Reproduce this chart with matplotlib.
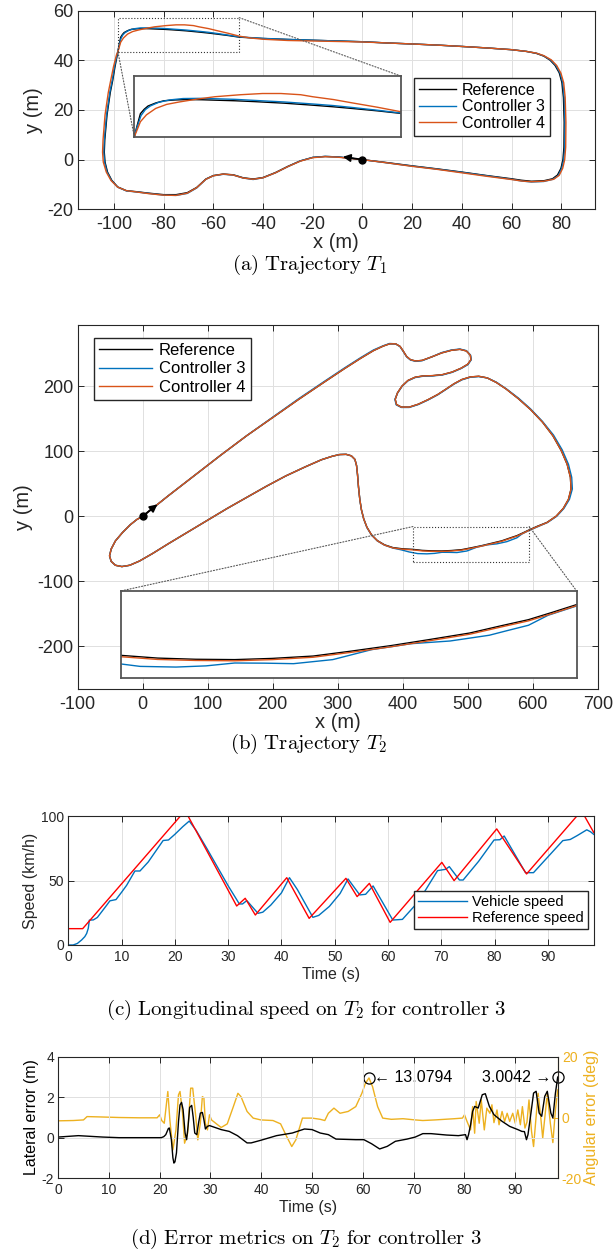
import matplotlib
matplotlib.use('Agg')
import matplotlib.pyplot as plt
from matplotlib.patches import Rectangle, ConnectionPatch

plt.rcParams['font.family'] = ['Liberation Sans', 'DejaVu Sans']
plt.rcParams['mathtext.fontset'] = 'cm'
plt.rcParams['axes.unicode_minus'] = False

# ---------------- data ----------------
# Trajectory T1 (x, y in m)
t1_ref = [(0, 0), (-5, 0.6), (-10, 1.1), (-15, 1.3), (-20, 0.9), (-25, -0.5), (-30, -2.7), (-35, -5.2),
          (-40, -7.2), (-44, -7.8), (-48, -7.3), (-52, -6.1), (-56, -5.8), (-60, -6.4), (-63, -7.8),
          (-66.7, -11.2), (-70.5, -13.3), (-75, -14.1), (-80, -14.1), (-86, -13.5), (-91, -12.9),
          (-95, -12.5), (-98.5, -11), (-100.9, -8.3), (-102.6, -5), (-103.6, -1), (-103.9, 3),
          (-103.7, 8), (-102.8, 18), (-101.5, 27), (-100.5, 32), (-99.6, 37.4), (-98.6, 42.5),
          (-98.0, 45.8), (-97.3, 49.3), (-96.6, 50.4), (-95.9, 51.2), (-94.5, 51.95), (-93, 52.5),
          (-91, 52.7), (-88.7, 52.8), (-86, 52.75), (-83.7, 52.65), (-80, 52.5), (-76.6, 52.3),
          (-71, 51.9), (-65.8, 51.4), (-62, 51.0), (-58.7, 50.6), (-54, 50.0), (-49.6, 49.35),
          (-40, 48.8), (-30, 48.4), (-20, 48.1), (-10, 47.8), (0, 47.5), (10, 47), (20, 46.6),
          (31, 46.1), (40, 45.6), (50, 45), (60, 44.3), (66, 43.6), (70, 42.8), (73, 41.7), (75.5, 40.1),
          (77.5, 38), (79.2, 35), (80.3, 31), (80.9, 25), (81.2, 15), (81.1, 5), (80.7, 0), (79.9, -3.5),
          (78.5, -6.2), (76.5, -7.7), (73, -8.5), (68, -8.7), (64, -8.3), (60, -7.7), (50, -6.4),
          (40, -5.0), (30, -3.7), (20, -2.5), (10, -1.2), (0, 0)]
t1_c3 = [(0, 0), (-5, 0.6), (-10, 1.1), (-15, 1.3), (-20, 0.9), (-25, -0.5), (-30, -2.8), (-35, -5.3),
         (-40, -7.3), (-44, -8.0), (-48, -7.4), (-52, -6.2), (-56, -5.9), (-60, -6.5), (-63, -7.9),
         (-66.7, -11.4), (-70.5, -13.6), (-75, -14.4), (-80, -14.3), (-86, -13.6), (-91, -13.0),
         (-95, -12.6), (-98.5, -11.1), (-101.0, -8.4), (-102.8, -5), (-103.8, -1), (-104.1, 3),
         (-103.9, 8), (-103.0, 18), (-101.7, 27), (-100.7, 32), (-99.8, 37.4), (-98.7, 42.5),
         (-98.0, 45.6), (-97.2, 48.8), (-96.4, 50.3), (-95.5, 51.2), (-94, 52.1), (-92, 52.7),
         (-89.5, 53.05), (-86.5, 53.1), (-83.7, 53.0), (-80, 52.85), (-76.6, 52.6), (-71, 52.2),
         (-65.8, 51.7), (-62, 51.3), (-58.7, 50.85), (-54, 50.15), (-49.6, 49.45), (-40, 48.85),
         (-30, 48.45), (-20, 48.1), (-10, 47.8), (0, 47.5), (10, 47), (20, 46.6),
         (31, 46.1), (40, 45.6), (50, 45), (60, 44.3), (66, 43.6), (70, 42.9), (73, 41.8), (75.8, 40.1),
         (77.8, 38), (79.5, 35), (80.6, 31), (81.2, 25), (81.5, 15), (81.4, 5), (81.0, 0), (80.2, -3.5),
         (78.8, -6.4), (76.7, -7.9), (73, -8.8), (68, -9.0), (64, -8.6), (60, -7.9), (50, -6.5),
         (40, -5.1), (30, -3.8), (20, -2.6), (10, -1.3), (0, 0)]
t1_c4 = [(0, 0), (-5, 0.5), (-10, 1.0), (-15, 1.2), (-20, 0.8), (-25, -0.6), (-30, -2.8), (-35, -5.3),
         (-40, -7.3), (-44, -7.9), (-48, -7.4), (-52, -6.2), (-56, -5.8), (-60, -6.5), (-63, -7.9),
         (-66.7, -11.3), (-70.5, -13.5), (-75, -14.4), (-80, -14.3), (-86, -13.7), (-91, -13.0),
         (-95, -12.5), (-98.5, -11.1), (-101.2, -8.4), (-103.1, -5), (-104.3, -1), (-104.6, 3),
         (-104.4, 8), (-103.6, 18), (-102.3, 27), (-101.3, 32), (-100.2, 37.4), (-99.0, 42.2),
         (-98.4, 43.6), (-97.8, 45.6), (-97.3, 47.3), (-96.2, 49.0), (-94.5, 50.6), (-92.5, 51.6),
         (-90.2, 52.2), (-87, 52.9), (-83.7, 53.5), (-79, 54.0), (-75, 54.3), (-71.6, 54.3), (-68, 54.0),
         (-65.8, 53.5), (-62, 52.8), (-58.7, 52.0), (-54, 50.9), (-49.6, 49.75), (-45, 49.0), (-40, 48.5),
         (-30, 48.0), (-20, 47.8), (-10, 47.6), (0, 47.4), (10, 47), (20, 46.6), (31, 46.1), (40, 45.6),
         (50, 45), (60, 44.3), (66, 43.6), (70, 42.9), (73, 41.9), (76, 40.2), (78.2, 37.9), (79.9, 34.8),
         (81, 31), (81.6, 25), (81.9, 15), (81.8, 5), (81.4, 0), (80.6, -3.5), (79.2, -6.3), (77, -7.9),
         (73, -8.7), (68, -8.9), (64, -8.6), (60, -8.0), (50, -6.7), (40, -5.3), (30, -3.9), (20, -2.7),
         (10, -1.3), (0, 0)]
t1_start = (0, 0)
t1_heading = (-9, 1.3)

# Trajectory T2 (x, y in m)
t2_ref = [(0, 0), (20, 16), (40, 32), (80, 63), (120, 94), (160, 124), (200, 152), (240, 180), (280, 207),
          (310, 227), (335, 243), (355, 255), (370, 262), (380, 265.5), (389, 265.5), (396, 261.5),
          (401, 254), (406, 246), (412, 241), (420, 239), (430, 240), (445, 245.5), (460, 251.5),
          (475, 255.5), (488, 257), (498, 254.5), (504, 248), (505, 241), (500, 234), (490, 228),
          (476, 222), (461, 218), (446, 216.5), (431, 216), (419, 214), (408, 209), (399, 200.5),
          (392, 190), (388.5, 180), (390.5, 172), (398, 168), (410, 168), (424, 172.5), (439, 179.5),
          (454, 187.5), (467, 196), (479, 204), (491, 210.5), (504, 214.5), (517, 215.5), (530, 213),
          (544, 206), (559, 196), (578, 181), (597, 164), (615, 145), (631, 124), (644, 101), (653, 80),
          (658, 60), (659, 42), (655, 26), (647, 12), (636, 0), (622, -9.5), (607, -15.5), (594.6, -21.0),
          (585, -25.6), (575.7, -29.9), (565, -33.5), (552.6, -37.8), (537, -41.6), (521.8, -45.2),
          (506, -48.5), (491.1, -51.4), (475, -52.8), (460.3, -53.5), (444.9, -53.3), (430, -52.6),
          (415.7, -51), (400, -50.2), (385, -48.3), (372, -44), (361, -37.5), (352, -28.5), (345, -17),
          (340, -4), (336.5, 10), (334, 26), (332, 45), (330.5, 64), (329, 78), (326.5, 87.5), (321, 93),
          (313, 95.3), (303, 95), (292, 92.5), (275, 87), (250, 76), (220, 62), (190, 46), (160, 29),
          (130, 12), (100, -6), (70, -24), (40, -42), (15, -57.5), (-5, -69), (-20, -75.5), (-32, -77.5),
          (-42, -75.5), (-48.5, -69.5), (-51, -61), (-48.5, -50.5), (-42, -38), (-31, -25), (-19, -13),
          (-9, -5), (0, 0)]
t2_c3 = [(0, 0), (20, 16), (40, 32), (80, 63), (120, 94), (160, 124), (200, 152.5), (240, 181), (280, 208),
         (310, 228), (335, 244), (355, 256), (370, 262.5), (380, 266), (389, 265.5), (396, 261),
         (401, 253.5), (406, 245.5), (412, 240.5), (420, 238.5), (430, 239.5), (445, 245.5), (460, 252),
         (475, 256), (488, 257.5), (498, 255), (504.5, 248), (505.5, 241), (500.5, 233.5), (490, 227.5),
         (476, 221.5), (461, 217.5), (446, 216), (431, 215.5), (419, 213.5), (408, 208.5), (399, 200),
         (392, 189.5), (388, 180), (390, 171.5), (398, 167.5), (410, 167.5), (424, 172), (439, 179),
         (454, 187), (467, 195.5), (479, 203.5), (491, 210), (504, 214), (517, 215), (530, 213),
         (544, 206.5), (559, 196.5), (578, 182), (597, 165), (615, 146), (632, 125), (645.5, 102),
         (655, 80), (660, 60), (661, 42), (656.5, 26), (648, 12), (637, 0), (623, -9.5), (608, -16),
         (594.6, -21.8), (583.4, -27.3), (575.7, -33.2), (567, -36.5), (560.3, -39.1), (544.9, -42.5),
         (529.5, -44.1), (514.1, -47.6), (498.8, -53.5), (483.4, -55.9), (472, -55.6), (460.3, -55.5),
         (449, -57.2), (437.2, -57.9), (423.1, -57.5), (410, -55), (398, -51.8), (385, -49), (372, -44.5),
         (361, -38), (352, -29), (345, -17.5), (340, -4), (336.5, 10), (334, 26), (332, 45), (330.5, 64),
         (329, 78), (326.5, 87.5), (321, 93), (313, 95.3), (303, 95), (292, 92.5), (275, 87), (250, 76),
         (220, 62), (190, 46), (160, 29), (130, 12), (100, -6), (70, -24), (40, -42), (15, -57.5),
         (-5, -69), (-20, -75.5), (-32, -77.5), (-42, -75.5), (-48.5, -69.5), (-51, -61), (-48.5, -50.5),
         (-42, -38), (-31, -25), (-19, -13), (-9, -5), (0, 0)]
t2_c4 = [(0, 0), (20, 16), (40, 32), (80, 63), (120, 94), (160, 124), (200, 152), (240, 180), (280, 207),
         (310, 227), (335, 243), (355, 255), (370, 262), (380, 265.5), (389, 265.5), (396, 261.5),
         (401, 254), (406, 246), (412, 241), (420, 239), (430, 240), (445, 245.5), (460, 251.5),
         (475, 255.5), (488, 257), (498, 254.5), (504, 248), (505, 241), (500, 234), (490, 228),
         (476, 222), (461, 218), (446, 216.5), (431, 216), (419, 214), (408, 209), (399, 200.5),
         (392, 190), (388.5, 180), (390.5, 172), (398, 168), (410, 168), (424, 172.5), (439, 179.5),
         (454, 187.5), (467, 196), (479, 204), (491, 210.5), (504, 214.5), (517, 215.5), (530, 213),
         (544, 206), (559, 196), (578, 181), (597, 164), (615, 145), (631, 124), (644, 101), (653, 80),
         (658, 60), (659, 42), (655, 26), (647, 12), (636, 0), (622, -9.8), (607, -16), (594.6, -21.6),
         (585, -26.3), (575.7, -30.6), (565, -34.2), (552.6, -38.5), (537, -42.3), (521.8, -45.9),
         (506, -49.2), (491.1, -52.1), (475, -53.5), (460.3, -54.2), (444.9, -54.0), (430, -53.4),
         (415.7, -51.8), (400, -50.8), (385, -48.8), (372, -44.4), (361, -37.8), (352, -28.7), (345, -17),
         (340, -4), (336.5, 10), (334, 26), (332, 45), (330.5, 64), (329, 78), (326.5, 87.5), (321, 93),
         (313, 95.3), (303, 95), (292, 92.5), (275, 87), (250, 76), (220, 62), (190, 46), (160, 29),
         (130, 12), (100, -6), (70, -24), (40, -42), (15, -57.5), (-5, -69), (-20, -75.5), (-32, -77.5),
         (-42, -75.5), (-48.5, -69.5), (-51, -61), (-48.5, -50.5), (-42, -38), (-31, -25), (-19, -13),
         (-9, -5), (0, 0)]
t2_start = (0, 0)
t2_heading = (26, 21)

# Longitudinal speed on T2, controller 3 (t in s, v in km/h)
speed_ref = [(0, 12.7), (2.7, 12.7), (21.0, 100), (22.5, 100), (31.6, 30.3), (33.2, 36.3), (35.1, 23.3),
             (41.0, 52.3), (45.2, 20.7), (52.1, 51.8), (54.2, 37.6), (56.5, 47.9), (60.4, 17.6),
             (70.1, 64.2), (72.4, 50.0), (80.4, 90.2), (86.0, 55.2), (95.4, 100), (96.9, 100), (98.6, 87.5)]
speed_veh = [(0, 0), (0.9, 0), (1.7, 1.2), (2.5, 3.9), (3.1, 6.5), (3.45, 9), (3.75, 13), (3.95, 19.3),
             (4.7, 19.5), (5.45, 21.4), (6.3, 26), (7.2, 30.9), (7.8, 34.3), (8.95, 35.3), (10, 41),
             (10.95, 46.4), (12.5, 57.5), (13.45, 57.5), (15, 64.5), (17.8, 81.2), (18.8, 81.6), (20, 86),
             (21.5, 92), (22.7, 96.3), (24, 89), (26, 75), (28, 60.5), (30, 46), (32.1, 31.9), (32.7, 31.9),
             (33.5, 34.5), (35.6, 24.6), (36.5, 25.5), (38, 31), (40, 40.5), (41.5, 52.3), (43, 43),
             (45.9, 21.5), (47, 23), (49, 30), (51, 40), (52.5, 51.3), (54.7, 38.9), (55.8, 39.4),
             (57.2, 45.9), (60.9, 19.4), (62.7, 19.9), (65.7, 33.7), (69.3, 57.8), (70.8, 58.8),
             (71.5, 60.9), (73.4, 50.5), (74.1, 50.5), (77, 65), (79.9, 81.6), (81.0, 81.8), (81.8, 84.7),
             (85.8, 56.2), (87.3, 56.2), (92.8, 81.1), (94.2, 82), (95.5, 85), (97.3, 89.5), (98.0, 88),
             (98.6, 86)]

# Error metrics on T2, controller 3
lateral_err = [(0, 0.03), (4, 0.1), (8.8, 0.03), (12, 0), (16, 0), (20.3, 0), (20.8, 0.05), (21.2, 0.15),
               (21.7, 0.45), (21.9, 0.48), (22.3, -0.1), (22.6, -1.0), (22.8, -1.26), (23.0, -1.2),
               (23.3, -0.76), (23.7, 0.8), (24.0, 1.62), (24.3, 1.75), (24.6, 1.4), (25.0, 0.23),
               (25.3, -0.1), (25.6, 0.6), (25.9, 1.5), (26.3, 1.6), (26.6, 1.0), (26.9, 0.23), (27.3, 0.15),
               (27.7, 0.8), (28.0, 1.22), (28.4, 1.25), (28.7, 0.9), (29.0, 0.43), (29.4, 0.56), (29.8, 0.6),
               (32.1, 0.4), (33.7, 0.31), (35.3, 0.1), (37.2, -0.26), (38.0, -0.26), (39.9, -0.13),
               (43.0, 0.1), (46.1, 0.23), (48.5, 0.43), (50.0, 0.4), (51.6, 0.23), (53.2, 0.15),
               (54.7, -0.07), (58.6, -0.1), (60.2, -0.1), (61.7, -0.3), (63.3, -0.56), (64.8, -0.43),
               (66.4, -0.18), (68.7, -0.07), (70.3, 0.03), (71.8, 0.2), (73.4, 0.2), (76.5, 0.13),
               (78.8, 0.1), (80.2, 0.15), (80.5, -0.1), (80.8, 0.15), (81.2, 0.64), (81.6, 1.3), (82.0, 1.55),
               (82.7, 1.47), (83.5, 2.13), (84.1, 2.18), (84.9, 1.55), (85.8, 1.14), (87.4, 0.81),
               (88.9, 0.56), (90.5, 0.4), (91.3, 0.31), (91.8, 0.3), (92.2, -0.1), (92.5, 0.15), (93.0, 1.06),
               (93.6, 2.21), (94.1, 2.3), (94.7, 1.22), (95.2, 1.06), (95.8, 2.05), (96.3, 2.3), (97.0, 1.22),
               (97.4, 0.98), (97.9, 2.21), (98.35, 3.0042)]
angular_err = [(0, -1.1), (3, -1.0), (5.0, -0.8), (5.7, 0.3), (8, 0.2), (12, 0), (16, -0.1), (19.5, -0.1),
               (20.0, 0.9), (20.4, -1.0), (20.9, -1.9), (21.6, 8.6), (22.0, -0.8), (22.6, -10.7), (23.2, -4.1),
               (23.7, 7.5), (24.0, 8.6), (24.5, 1.4), (24.9, -8.5), (25.5, -5.2), (26.1, 9.7), (26.5, 9.7),
               (27.1, 0.3), (27.5, -7.4), (28.0, -1.9), (28.4, 6.9), (28.7, 6.5), (29.0, -1.9), (29.4, -4.1),
               (29.8, 0.9), (30.2, -0.8), (31.4, -2.4), (32.1, -3.3), (33.3, -2.1), (34.5, 3.6), (35.4, 8.0),
               (36.0, 6.9), (37.2, 2.0), (38.4, -0.2), (39.9, -0.8), (42.3, -1.0), (43.8, -2.1), (45.0, -6.3),
               (46.0, -9.6), (46.8, -7.4), (48.1, -0.2), (50.0, -0.2), (51.6, -0.6), (52.5, -1.0), (53.2, 1.4),
               (54.3, 3.1), (55.5, 1.4), (57.1, 2.0), (58.6, 3.6), (59.8, 8.0), (60.5, 11.3), (61.2, 13.0794),
               (61.9, 10.2), (62.9, 3.6), (63.9, -0.2), (65.6, -0.6), (67.9, -0.4), (70.3, -0.8), (71.8, -1.0),
               (74.2, -0.8), (78.0, -0.4), (79.6, -0.2), (80.0, 0.9), (80.5, -1.3), (81.2, -4.1), (81.6, 3.6),
               (82.0, -5.2), (82.3, 5.3), (82.9, -1.9), (83.3, 5.8), (83.9, -4.1), (84.4, 3.1), (85.0, 1.4),
               (85.4, 4.2), (85.8, -1.7), (86.4, 2.5), (86.8, -2.4), (87.4, 2.0), (87.9, -1.3), (88.4, 1.4),
               (88.9, -1.3), (89.5, 1.4), (90.0, -1.9), (90.5, 2.5), (91.0, -2.4), (91.4, 3.6), (91.9, -3.5),
               (92.3, -1.5), (92.7, 5.8), (93.2, -4.6), (93.6, -9.6), (94.1, 0.3), (94.5, 8.0), (95.0, 0.3),
               (95.4, -6.8), (95.9, 1.4), (96.3, 8.0), (96.9, -1.9), (97.4, -8.3), (97.9, 2.5), (98.35, 9.1)]

# ---------------- style ----------------
W, H = 613, 1254
AX_COL = '#262626'
GRID_COL = '#e0e0e0'
C_BLUE = '#0072BD'
C_ORANGE = '#D95319'
C_YELLOW = '#EDB120'
CAPTION_SIZE = 15


def box(l, t, r, b):
    return [l / W, 1 - b / H, (r - l) / W, (b - t) / H]


def xy(points):
    return [p[0] for p in points], [p[1] for p in points]


def matlab_axes(ax, size, xpad=5, ypad=3):
    ax.grid(True, color=GRID_COL, lw=0.7)
    ax.set_axisbelow(True)
    ax.tick_params(direction='in', top=True, right=True, length=4, width=0.7,
                   colors=AX_COL, labelsize=size)
    ax.tick_params(axis='x', pad=xpad)
    ax.tick_params(axis='y', pad=ypad)
    for s in ax.spines.values():
        s.set_color(AX_COL)
        s.set_linewidth(0.8)


def inset(ax, rect, pos, xlim, ylim, tracks, corners):
    x0, y0, x1, y1 = rect
    ax.add_patch(Rectangle((x0, y0), x1 - x0, y1 - y0, fill=False, ls=':', lw=0.8, ec='#333333', zorder=5))
    axi = fig.add_axes(box(*pos))
    for pts, c in tracks:
        axi.plot(*xy(pts), color=c, lw=1.0)
    axi.set_xlim(*xlim)
    axi.set_ylim(*ylim)
    axi.set_xticks([])
    axi.set_yticks([])
    for s in axi.spines.values():
        s.set_color('#555555')
        s.set_linewidth(1.3)
    for a, b in corners:
        fig.add_artist(ConnectionPatch(xyA=a, coordsA=ax.transData, xyB=b, coordsB=axi.transAxes,
                                       ls=':', lw=0.8, color='#555555'))
    return axi


fig = plt.figure(figsize=(W / 100, H / 100), dpi=100)

# ---------------- (a) trajectory T1 ----------------
ax = fig.add_axes(box(77.7, 10.7, 595, 209.3))
tracks1 = [(t1_ref, 'k'), (t1_c3, C_BLUE), (t1_c4, C_ORANGE)]
for (pts, c), name in zip(tracks1, ['Reference', 'Controller 3', 'Controller 4']):
    ax.plot(*xy(pts), color=c, lw=1.0, label=name)
ax.plot(*t1_start, 'o', color='k', ms=5, zorder=6)
ax.annotate('', xy=t1_heading, xytext=t1_start,
            arrowprops=dict(arrowstyle='-|>', color='k', lw=1.3, mutation_scale=11), zorder=6)
ax.set_xlim(-114.6, 93.6)
ax.set_ylim(-20, 60)
ax.set_xticks(range(-100, 81, 20))
ax.set_yticks(range(-20, 61, 20))
matlab_axes(ax, 13)
ax.set_xlabel('x (m)', fontsize=14.5, color=AX_COL, labelpad=0)
ax.set_ylabel('y (m)', fontsize=14.5, color=AX_COL, labelpad=3)
ax.legend(loc='upper left', bbox_to_anchor=(414 / W, 1 - 78 / H), bbox_transform=fig.transFigure,
          fontsize=11.5, fancybox=False, edgecolor=AX_COL, framealpha=1, handlelength=2.3,
          handletextpad=0.4, labelspacing=0.1, borderpad=0.3, borderaxespad=0)
inset(ax, (-98.4, 43.4, -49.6, 57.2), (134.4, 76.2, 401.3, 137.4), (-98.4, -49.6), (43.4, 58.6),
      tracks1, [((-49.6, 57.2), (1, 1)), ((-98.4, 43.4), (0, 0))])
fig.text(310 / W, 1 - 265 / H, r'$\mathrm{(a)\ Trajectory}\ T_1$', ha='center', va='center',
         fontsize=CAPTION_SIZE)

# ---------------- (b) trajectory T2 ----------------
ax = fig.add_axes(box(77.7, 325.3, 597.7, 689))
tracks2 = [(t2_ref, 'k'), (t2_c3, C_BLUE), (t2_c4, C_ORANGE)]
for (pts, c), name in zip(tracks2, ['Reference', 'Controller 3', 'Controller 4']):
    ax.plot(*xy(pts), color=c, lw=1.0, label=name)
ax.plot(*t2_start, 'o', color='k', ms=5, zorder=6)
ax.annotate('', xy=t2_heading, xytext=t2_start,
            arrowprops=dict(arrowstyle='-|>', color='k', lw=1.3, mutation_scale=11), zorder=6)
ax.set_xlim(-100, 700)
ax.set_ylim(-266, 294)
ax.set_xticks(range(-100, 701, 100))
ax.set_yticks(range(-200, 201, 100))
matlab_axes(ax, 13)
ax.set_xlabel('x (m)', fontsize=14.5, color=AX_COL, labelpad=0)
ax.set_ylabel('y (m)', fontsize=14.5, color=AX_COL, labelpad=3)
ax.legend(loc='upper left', bbox_to_anchor=(94 / W, 1 - 338 / H), bbox_transform=fig.transFigure,
          fontsize=12, fancybox=False, edgecolor=AX_COL, framealpha=1, handlelength=3.2,
          handletextpad=0.4, labelspacing=0.2, borderpad=0.3, borderaxespad=0)
inset(ax, (415.7, -71, 594.6, -15.9), (121.2, 590.9, 576.6, 678.4), (415.7, 594.6), (-64.6, -12.9),
      tracks2, [((415.7, -15.9), (0, 1)), ((594.6, -15.9), (1, 1))])
fig.text(308 / W, 1 - 744 / H, r'$\mathrm{(b)\ Trajectory}\ T_2$', ha='center', va='center',
         fontsize=CAPTION_SIZE)

# ---------------- (c) longitudinal speed ----------------
ax = fig.add_axes(box(68.3, 816.3, 593.7, 945))
ax.plot(*xy(speed_veh), color=C_BLUE, lw=1.0, label='Vehicle speed')
ax.plot(*xy(speed_ref), color='#ff0000', lw=1.0, label='Reference speed')
ax.set_xlim(0, 98.6)
ax.set_ylim(0, 100)
ax.set_xticks(range(0, 91, 10))
ax.set_yticks([0, 50, 100])
matlab_axes(ax, 10, xpad=3.5)
ax.set_xlabel('Time (s)', fontsize=11.5, color=AX_COL, labelpad=2)
ax.set_ylabel('Speed (km/h)', fontsize=11.5, color=AX_COL, labelpad=2)
ax.legend(loc='upper left', bbox_to_anchor=(414 / W, 1 - 891 / H), bbox_transform=fig.transFigure,
          fontsize=10.5, fancybox=False, edgecolor=AX_COL, framealpha=1, handlelength=3.3,
          handletextpad=0.4, labelspacing=0.1, borderpad=0.3, borderaxespad=0)
fig.text(306 / W, 1 - 1010 / H,
         r'$\mathrm{(c)\ Longitudinal\ speed\ on}\ T_2\ \mathrm{for\ controller\ 3}$',
         ha='center', va='center', fontsize=CAPTION_SIZE)

# ---------------- (d) error metrics ----------------
ax = fig.add_axes(box(58.1, 1057, 557.7, 1178))
ax2 = ax.twinx()
lt, le = xy(lateral_err)
at, av = xy(angular_err)
ax.plot(lt, le, color='k', lw=1.0)
ax2.plot(at, av, color=C_YELLOW, lw=1.0)
ax.set_zorder(ax2.get_zorder() + 1)
ax.patch.set_visible(False)
ax.set_xlim(0, 98.35)
ax.set_ylim(-2, 4)
ax2.set_ylim(-20, 20)
ax.set_xticks(range(0, 91, 10))
ax.set_yticks([-2, 0, 2, 4])
ax2.set_yticks([-20, 0, 20])
matlab_axes(ax, 10, xpad=3.5)
ax.tick_params(right=False)
ax2.tick_params(direction='in', length=4, width=0.7, colors=C_YELLOW, labelsize=10, pad=3)
ax2.spines['right'].set_color(C_YELLOW)
for s in ['left', 'top', 'bottom']:
    ax2.spines[s].set_visible(False)
ax.set_xlabel('Time (s)', fontsize=11.5, color=AX_COL, labelpad=2)
ax.set_ylabel('Lateral error (m)', fontsize=11.5, color='k', labelpad=2)
ax2.set_ylabel('Angular error (deg)', fontsize=11.5, color=C_YELLOW, labelpad=1)

# peak markers
i_ang = max(range(len(av)), key=lambda i: av[i])
ax2.plot(at[i_ang], av[i_ang], 'o', mfc='none', mec='k', ms=8, mew=0.9)
ax2.text(at[i_ang] + 1.0, av[i_ang], '\u2190 %.4f' % av[i_ang], va='center', ha='left', fontsize=11.5)
i_lat = max(range(len(le)), key=lambda i: le[i])
ax.plot(lt[i_lat], le[i_lat], 'o', mfc='none', mec='k', ms=8, mew=0.9, clip_on=False)
ax.text(lt[i_lat] - 1.3, le[i_lat], '%.4f \u2192' % le[i_lat], va='center', ha='right', fontsize=11.5)
fig.text(306 / W, 1 - 1239 / H, r'$\mathrm{(d)\ Error\ metrics\ on}\ T_2\ \mathrm{for\ controller\ 3}$',
         ha='center', va='center', fontsize=CAPTION_SIZE)

fig.savefig('out.png', dpi=100)
